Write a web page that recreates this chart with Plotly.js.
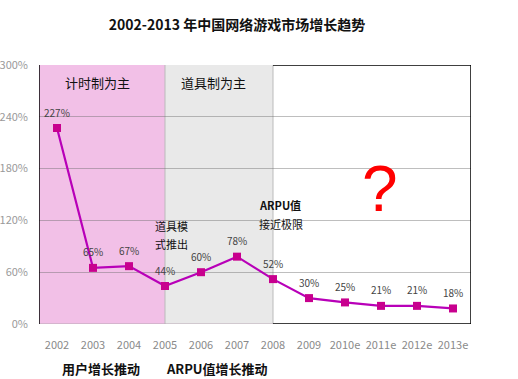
<!DOCTYPE html>
<html>
<head>
<meta charset="utf-8">
<script src="https://cdn.plot.ly/plotly-3.0.1.min.js"></script>
<style>html,body{margin:0;padding:0;background:#fff;}#chart{width:518px;height:379px;}</style>
</head>
<body>
<div id="chart"></div>
<script>
const years = ['2002','2003','2004','2005','2006','2007','2008','2009','2010e','2011e','2012e','2013e'];
const growth = [227, 65, 67, 44, 60, 78, 52, 30, 25, 21, 21, 18];
const growthLabels = ['227%','65%','67%','44%','60%','78%','52%','30%','25%','21%','21%','18%'];
const yTickVals = [0, 60, 120, 180, 240, 300];
const yTickText = ['0%','60%','120%','180%','240%','300%'];

const FONT = '"Noto Sans CJK SC", "Noto Sans", sans-serif';

const trace = {
  x: years, y: growth, type: 'scatter', mode: 'lines+markers',
  line: {color: '#B800B8', width: 2.2},
  marker: {symbol: 'square', size: 8, color: '#C8008E'},
  hoverinfo: 'skip', showlegend: false
};

const annotations = growth.map((v, i) => ({
  x: i, y: v, xref: 'x', yref: 'y', text: growthLabels[i], showarrow: false,
  yshift: 16, font: {family: FONT, size: 10, color: '#444'}
}));

function txt(x, y, text, opts) {
  return Object.assign({x: x, y: y, xref: 'x', yref: 'y', text: text, showarrow: false,
    font: {family: FONT, size: 11, color: '#111'}}, opts || {});
}
annotations.push(txt(1.125, 280, '计时制为主', {font: {family: FONT, size: 13, color: '#111'}}));
annotations.push(txt(4.36, 280, '道具制为主', {font: {family: FONT, size: 13, color: '#111'}}));
annotations.push(txt(2.667, 113.5, '道具模', {xanchor: 'left'}));
annotations.push(txt(2.667, 92.7, '式推出', {xanchor: 'left'}));
annotations.push(txt(5.556, 137.8, '<b>ARPU值</b>', {xanchor: 'left'}));
annotations.push(txt(5.556, 115.8, '接近极限', {xanchor: 'left'}));
annotations.push(txt(8.97, 156.5, '?', {font: {family: '"Liberation Sans", Arial, sans-serif', size: 64, color: '#FF0000'}}));
annotations.push({x: 1.222, y: -0.172, xref: 'x', yref: 'paper', yanchor: 'middle', text: '<b>用户增长推动</b>', showarrow: false,
  font: {family: FONT, size: 13, color: '#111'}});
annotations.push({x: 4.444, y: -0.172, xref: 'x', yref: 'paper', yanchor: 'middle', text: '<b>ARPU值增长推动</b>', showarrow: false,
  font: {family: FONT, size: 13, color: '#111'}});

const shapes = [
  {type: 'rect', xref: 'x', yref: 'y', x0: -0.5, x1: 3, y0: 0, y1: 300, fillcolor: '#F2C0E7', line: {width: 0}, layer: 'below'},
  {type: 'rect', xref: 'x', yref: 'y', x0: 3, x1: 6, y0: 0, y1: 300, fillcolor: '#E9E9E9', line: {width: 0}, layer: 'below'},
  {type: 'line', xref: 'x', yref: 'y', x0: 3, x1: 3, y0: 0, y1: 300, line: {color: '#BBBBBB', width: 1}, layer: 'below'},
  {type: 'line', xref: 'x', yref: 'y', x0: 6, x1: 6, y0: 0, y1: 300, line: {color: '#BBBBBB', width: 1}, layer: 'below'},
  {type: 'line', xref: 'x', yref: 'y', x0: -0.5, x1: 6, y0: 0, y1: 0, line: {color: '#B8A8B4', width: 1}, layer: 'below'},
  {type: 'line', xref: 'x', yref: 'y', x0: 6, x1: 11.5, y0: 300, y1: 300, line: {color: '#000', width: 1.5}},
  {type: 'line', xref: 'x', yref: 'y', x0: 11.5, x1: 11.5, y0: 0, y1: 300, line: {color: '#000', width: 1.5}},
  {type: 'line', xref: 'x', yref: 'y', x0: 6, x1: 11.5, y0: 0, y1: 0, line: {color: '#000', width: 1.5}},
  {type: 'line', xref: 'x', yref: 'y', x0: -0.5, x1: -0.5, y0: 0, y1: 300, line: {color: '#000', width: 1.5}}
];

const layout = {
  width: 518, height: 379,
  margin: {l: 39, r: 47, t: 65, b: 55},
  paper_bgcolor: '#fff', plot_bgcolor: '#fff',
  font: {family: FONT},
  title: {text: '<b>2002-2013 年中国网络游戏市场增长趋势</b>', x: 0.4575, xref: 'container', y: 0.934, yref: 'container',
    xanchor: 'center', yanchor: 'middle', font: {family: FONT, size: 14, color: '#111'}},
  xaxis: {type: 'category', range: [-0.5, 11.5], showgrid: false, zeroline: false, showline: false,
    ticks: '', tickfont: {family: FONT, size: 11, color: '#8a8a8a'}, ticklabelstandoff: 13, fixedrange: true},
  yaxis: {range: [0, 300], tickvals: yTickVals, ticktext: yTickText, showgrid: true,
    gridcolor: 'rgba(110,110,110,0.45)', gridwidth: 1, zeroline: false, showline: false, ticks: '',
    tickfont: {family: FONT, size: 11, color: '#9a9a9a'}, ticklabelstandoff: 10, fixedrange: true},
  shapes: shapes,
  annotations: annotations,
  showlegend: false
};

Plotly.newPlot('chart', [trace], layout, {displayModeBar: false, staticPlot: true});
</script>
</body>
</html>
